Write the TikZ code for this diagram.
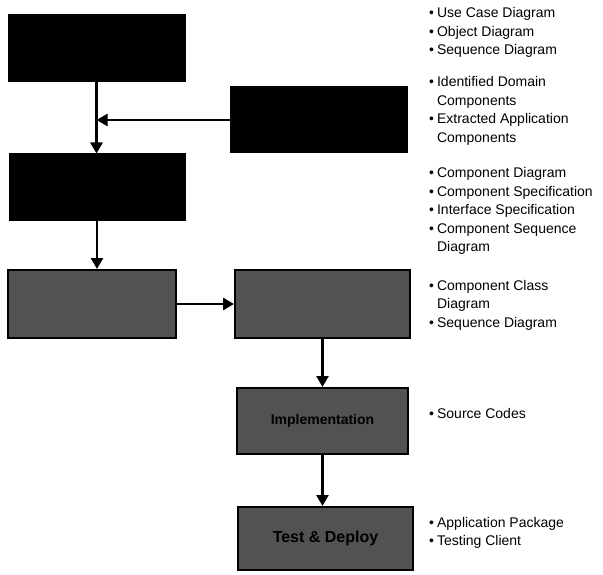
\documentclass[tikz,border=0pt]{standalone}
\usepackage{fontspec}
\setmainfont{Liberation Sans}
\usetikzlibrary{arrows.meta}
\begin{document}
\begin{tikzpicture}[x=1pt,y=-1pt,
  blackbox/.style={draw=black, fill=black, line width=1pt, inner sep=0pt},
  greybox/.style={draw=black, fill=black!68, line width=2pt, inner sep=0pt,
    font=\fontsize{14}{16}\selectfont\bfseries, text=black},
  flow/.style={line width=2.6pt, -{Triangle[length=11pt,width=12pt]}},
  list/.style={anchor=base west, inner sep=0pt, font=\fontsize{14}{18.5}\selectfont}]
\useasboundingbox (0,0) rectangle (603,575);
% boxes
\node[blackbox, minimum width=177pt, minimum height=67pt] (A) at (96.5,48.5) {};
\node[blackbox, minimum width=177pt, minimum height=66pt] (B) at (318.5,120) {};
\node[blackbox, minimum width=176pt, minimum height=67pt] (C) at (97,187.5) {};
\node[greybox, minimum width=168pt, minimum height=68pt] (D) at (92,304) {};
\node[greybox, minimum width=175pt, minimum height=68pt] (E) at (322.5,304) {};
\node[greybox, minimum width=171pt, minimum height=66pt] (F) at (322.5,421) {Implementation};
\node[greybox, minimum width=175pt, minimum height=63pt, font=\fontsize{16}{18}\selectfont\bfseries] (G) at (325.5,538.5) {Test \& Deploy};
% connectors
\coordinate (m) at (A.south |- B.west);
\draw[flow] (A.south) -- (A.south |- C.north);
\draw[flow] (B.west) -- (m);
\draw[flow] (C.south) -- (C.south |- D.north);
\draw[flow] (D) -- (E);
\draw[flow] (E.south) -- (E.south |- F.north);
\draw[flow] (F.south) -- (F.south |- G.north);
% lists
\node[list] (l1) at (429,18) {\begin{tabular}[t]{@{}l@{\hspace{3pt}}l@{}}
\textbullet & Use Case Diagram\\ \textbullet & Object Diagram\\ \textbullet & Sequence Diagram\end{tabular}};
\node[list] (l2) at (429,87) {\begin{tabular}[t]{@{}l@{\hspace{3pt}}l@{}}
\textbullet & Identified Domain\\ & Components\\ \textbullet & Extracted Application\\ & Components\end{tabular}};
\node[list] (l3) at (429,178) {\begin{tabular}[t]{@{}l@{\hspace{3pt}}l@{}}
\textbullet & Component Diagram\\ \textbullet & Component Specification\\ \textbullet & Interface Specification\\ \textbullet & Component Sequence\\ & Diagram\end{tabular}};
\node[list] (l4) at (429,290) {\begin{tabular}[t]{@{}l@{\hspace{3pt}}l@{}}
\textbullet & Component Class\\ & Diagram\\ \textbullet & Sequence Diagram\end{tabular}};
\node[list] (l5) at (429,418) {\begin{tabular}[t]{@{}l@{\hspace{3pt}}l@{}}
\textbullet & Source Codes\end{tabular}};
\node[list] (l6) at (429,527) {\begin{tabular}[t]{@{}l@{\hspace{3pt}}l@{}}
\textbullet & Application Package\\ \textbullet & Testing Client\end{tabular}};
\end{tikzpicture}
\end{document}
